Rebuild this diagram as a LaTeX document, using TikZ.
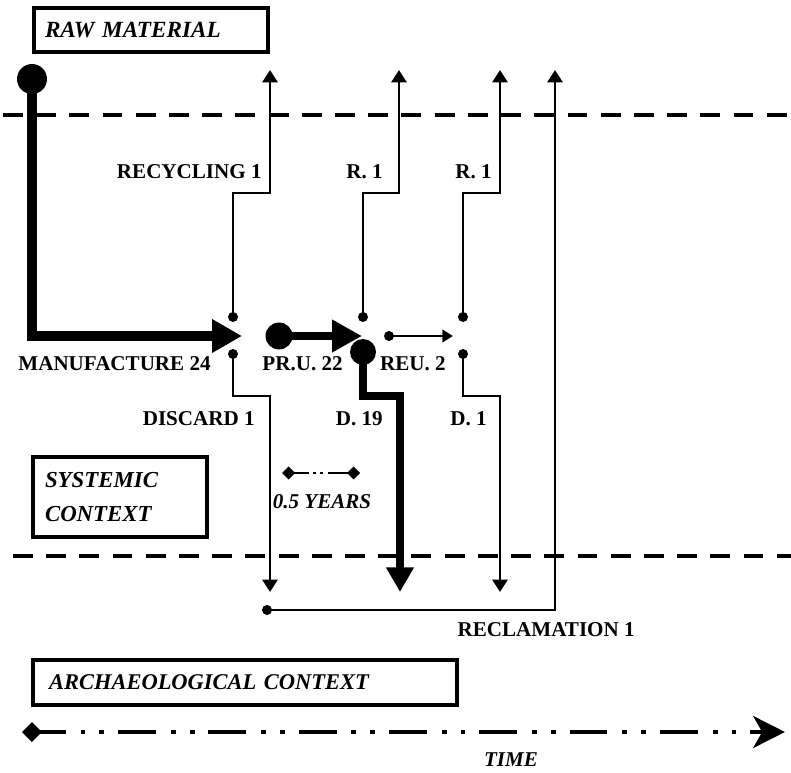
\documentclass[tikz,border=0pt]{standalone}
\usepackage{fontspec}
\setmainfont{Liberation Serif}
\usetikzlibrary{arrows.meta,positioning,calc}

\tikzset{
  lbl/.style={font=\fontsize{12}{14}\selectfont\bfseries, inner sep=0pt},
  ital/.style={font=\fontsize{12}{14}\selectfont\bfseries\itshape, inner sep=0pt},
  ctxbox/.style={draw, line width=2.3pt, anchor=north west, align=left, inner ysep=0pt},
  dot/.style={circle, fill, inner sep=0pt, minimum size=0.2cm},
  bigdot/.style={circle, fill, inner sep=0pt, minimum size=0.54cm},
  flow/.style={line width=1.6pt, -{Triangle[length=7pt,width=8.5pt]}},
  ctxline/.style={line width=2.8pt, dash pattern=on 11.3pt off 7.6pt},
}

\begin{document}
\begin{tikzpicture}[x=0.02cm, y=-0.02cm]

		\useasboundingbox (0,0) rectangle (791,773);

		% context boxes
		\node[ctxbox, text width=4.24cm, inner xsep=0.22cm, minimum height=0.88cm,
		  font=\fontsize{13.2}{15}\selectfont\bfseries\itshape] (raw) at (32,6) {RAW MATERIAL};
		\node[ctxbox, text width=3.0cm, inner xsep=0.24cm, minimum height=1.6cm,
		  font=\fontsize{13}{19.3}\selectfont\bfseries\itshape] (sys) at (31,455) {SYSTEMIC\\CONTEXT};
		\node[ctxbox, text width=7.84cm, inner xsep=0.32cm, minimum height=0.9cm,
		  font=\fontsize{12.8}{14}\selectfont\bfseries\itshape] (arch) at (31,658) {ARCHAEOLOGICAL CONTEXT};

		% context borders
		\draw[ctxline] (3,115) -- (791,115);
		\draw[ctxline] (13,556) -- (791,556);

		% manufacture
		\node[bigdot, minimum size=0.6cm] (rmdot) at (32,79) {};
		\coordinate (mfgtip) at (242,336);
		\draw[line width=5.4pt, line join=miter, -{Triangle[length=17pt,width=18pt]}]
		(rmdot.center) |- (mfgtip);

		% primary use
		\node[bigdot] (prudot) at (279,336) {};
		\coordinate (prutip) at (362,336);
		\draw[line width=5pt, -{Triangle[length=17pt,width=17.5pt]}]
		(prudot.center) -- (prutip);

		% reuse
		\node[dot] (reudot) at (389,336) {};
		\coordinate (reutip) at (453,336);
		\draw[line width=1.4pt, -{Triangle[length=6pt,width=7pt]}]
		(reudot.center) -- (reutip);

		% recycling
		\node[dot] (rc1) at (233,317) {};
		\node[dot] (rc2) at (363,317) {};
		\node[dot] (rc3) at (463,317) {};
		\coordinate (rcend1) at (270,70);
		\coordinate (rcend2) at (399,70);
		\coordinate (rcend3) at (500,70);
		\draw[flow] (rc1.center) -- ++(0,-124) -| (rcend1);
		\draw[flow] (rc2.center) -- ++(0,-124) -| (rcend2);
		\draw[flow] (rc3.center) -- ++(0,-124) -| (rcend3);

		% discard
		\node[dot] (ds1) at (233,354) {};
		\node[bigdot, minimum size=0.52cm] (ds2) at (363,352) {};
		\node[dot] (ds3) at (463,354) {};
		\coordinate (dsend1) at (270,592);
		\coordinate (dsend2) at (400,592);
		\coordinate (dsend3) at (500,592);
		\draw[flow] (ds1.center) -- ++(0,42) -| (dsend1);
		\draw[line width=4.5pt, line join=miter, -{Triangle[length=14pt,width=15pt]}]
		(ds2.center) -- ++(0,44) -| (dsend2);
		\draw[flow] (ds3.center) -- ++(0,42) -| (dsend3);

		% reclamation
		\node[dot] (rcldot) at (267,610) {};
		\coordinate (rclend) at (555,70);
		\draw[flow] (rcldot.center) -| (rclend);

		% labels
		\node[lbl, anchor=east] (rec1) at (262,172) {RECYCLING 1};
		\node[lbl, anchor=east] (rec2) at (383,172) {R. 1};
		\node[lbl, anchor=east] (rec3) at (492,172) {R. 1};
		\node[lbl, anchor=east] (mfg) at (211,364) {MANUFACTURE 24};
		\node[lbl, anchor=east] (pru) at (343,364) {PR.U. 22};
		\node[lbl, anchor=east] (reu) at (446,364) {REU. 2};
		\node[lbl, anchor=east] (dis1) at (255,419) {DISCARD 1};
		\node[lbl, anchor=east] (dis2) at (383,419) {D. 19};
		\node[lbl, anchor=east] (dis3) at (487,419) {D. 1};
		\node[lbl, anchor=east] (rcl) at (635,630) {RECLAMATION 1};

		% scale
		\coordinate (yl) at (282,473);
		\coordinate (yr) at (360,473);
		\draw[line width=1.7pt,
		  dash pattern=on 9pt off 2.5pt on 1.7pt off 2.5pt on 1.7pt off 2.5pt on 20pt,
		  {Diamond[length=7.4pt,width=7.4pt]}-{Diamond[length=7.4pt,width=7.4pt]}]
		(yl) -- (yr);
		\node[ital] (half) at (322,502) {0.5 YEARS};

		% time axis
		\coordinate (t0) at (22,732);
		\coordinate (t1) at (785,732);
		\draw[line width=2.8pt,
		  dash pattern=on 21.5pt off 8.5pt on 2.8pt off 7.9pt on 2.8pt off 7.9pt, dash phase=6pt,
		  {Diamond[length=11.3pt,width=11.3pt]}-{Stealth[length=18pt,width=18pt,inset=5pt]}]
		(t0) -- (t1);
		\node[ital] (time) at (511,760) {TIME};

	\end{tikzpicture}
\end{document}
